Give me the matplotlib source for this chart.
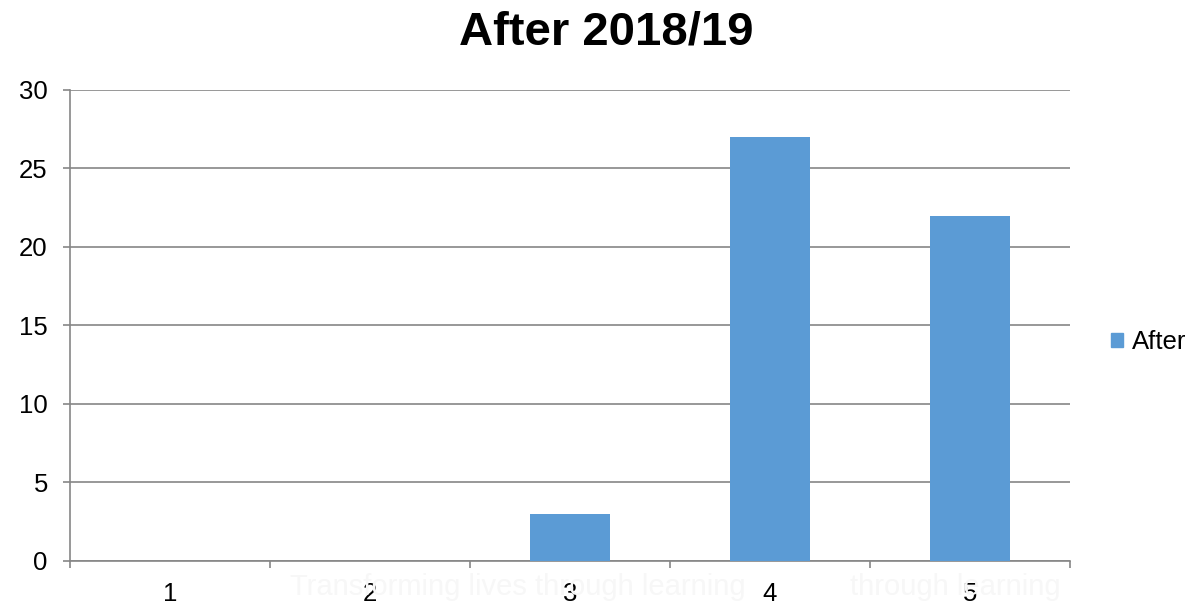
import matplotlib.pyplot as plt
from matplotlib.patches import Patch

plt.rcParams['font.family'] = ['Liberation Sans', 'DejaVu Sans']

categories = [1, 2, 3, 4, 5]
after = [0, 0, 3, 27, 22]
title = 'After 2018/19'
series_name = 'After'
watermark = 'Transforming lives through learning'
watermark_tail = 'through learning'

bar_color = '#5b9bd5'
grid_color = '#868686'
mark_color = '#f7f7f7'

fig = plt.figure(figsize=(11.99, 6.04), dpi=100)
ax = fig.add_axes([0.0584, 0.0712, 0.8340, 0.7798])

# very faint strap line sitting behind the category labels
fig.text(0.2419, 0.0150, watermark, ha='left', va='baseline', fontsize=21,
         color=mark_color, zorder=0)
fig.text(0.709, 0.0150, watermark_tail, ha='left', va='baseline', fontsize=21,
         color=mark_color, zorder=0)

ax.bar(categories, after, width=0.4, color=bar_color, zorder=3)

ax.set_xlim(0.5, 5.5)
ax.set_ylim(0, 30)
ax.set_yticks(range(0, 31, 5))
ax.set_xticks(categories)
ax.set_xticklabels([str(c) for c in categories])
ax.set_xticks([c + 0.5 for c in [0] + categories], minor=True)

ax.tick_params(axis='x', which='major', length=0, labelsize=18.5, pad=15)
ax.tick_params(axis='x', which='minor', length=5, color=grid_color, width=1.2)
ax.tick_params(axis='y', length=5, color=grid_color, width=1.2,
               labelsize=18.5, pad=11)

ax.grid(axis='y', color=grid_color, linewidth=1.2, zorder=0)
ax.patch.set_alpha(0)
for side in ('top', 'right'):
    ax.spines[side].set_visible(False)
for side in ('left', 'bottom'):
    ax.spines[side].set_color(grid_color)
    ax.spines[side].set_linewidth(1.2)

fig.text(0.506, 0.946, title, ha='center', va='center',
         fontsize=34, fontweight='bold')

ax.legend(handles=[Patch(color=bar_color, label=series_name)],
          loc='center left', bbox_to_anchor=(1.018, 0.465), frameon=False,
          fontsize=18.5, handlelength=0.45, handleheight=0.45,
          handletextpad=0.35)

fig.savefig('out.png', dpi=100)
